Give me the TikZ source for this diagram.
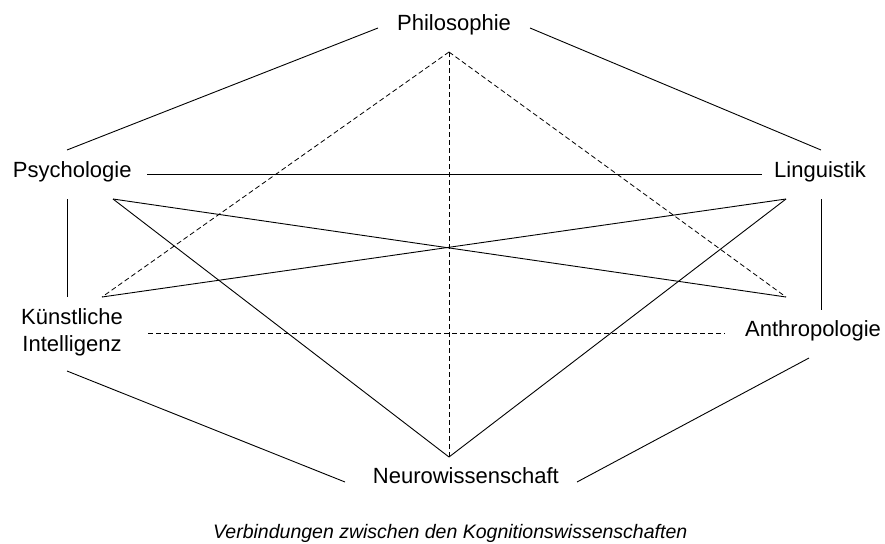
\documentclass[tikz,border=0pt]{standalone}
\usepackage{fontspec}
\setmainfont{Liberation Sans}
\begin{document}
\begin{tikzpicture}[x=1pt,y=-1pt,
  field/.style={inner sep=0pt, font=\fontsize{22}{27}\selectfont},
  caption/.style={inner sep=0pt, font=\fontsize{19.5}{23}\selectfont\itshape},
  link/.style={line width=0.9pt},
  weak/.style={line width=0.8pt, dash pattern=on 5pt off 3pt}]
\useasboundingbox (0,0) rectangle (885,543);

% disciplines
\node[field, anchor=base west] (phil)  at (397,30.5)  {Philosophie};
\node[field, anchor=base west] (psy)   at (12.7,177)  {Psychologie};
\node[field, anchor=base west] (ling)  at (774,177)   {Linguistik};
\node[field, align=center]     (ki)    at (72,332)    {Künstliche\\Intelligenz};
\node[field, anchor=base west] (anth)  at (745,336.7) {Anthropologie};
\node[field, anchor=base west] (neuro) at (372.7,483) {Neurowissenschaft};
\node[caption, anchor=base west] (cap) at (213,538)
  {Verbindungen zwischen den Kognitionswissenschaften};

% line ends around each label
\coordinate (phil-l) at (378,28);
\coordinate (phil-r) at (530,28);
\coordinate (phil-d) at (449,52);
\coordinate (psy-u)  at (67,150);
\coordinate (psy-r)  at (147,174);
\coordinate (psy-d)  at (67,199);
\coordinate (psy-dr) at (113,199);
\coordinate (ling-u)  at (821,150);
\coordinate (ling-l)  at (762,174);
\coordinate (ling-d)  at (821,199);
\coordinate (ling-dl) at (786,199);
\coordinate (ki-u)  at (67,297);
\coordinate (ki-ur) at (102,297);
\coordinate (ki-r)  at (148,333.3);
\coordinate (ki-d)  at (67,371);
\coordinate (anth-u)  at (821,310);
\coordinate (anth-ul) at (786,297);
\coordinate (anth-l)  at (725,333.3);
\coordinate (anth-d)  at (809,358);
\coordinate (neuro-u) at (449,457);
\coordinate (neuro-l) at (345,482);
\coordinate (neuro-r) at (577,482);

% strong connections
\draw[link] (phil-l) -- (psy-u);
\draw[link] (phil-r) -- (ling-u);
\draw[link] (psy-r) -- (ling-l);
\draw[link] (psy-d) -- (ki-u);
\draw[link] (ling-d) -- (anth-u);
\draw[link] (ki-d) -- (neuro-l);
\draw[link] (anth-d) -- (neuro-r);
\draw[link] (psy-dr) -- (anth-ul);
\draw[link] (psy-dr) -- (neuro-u);
\draw[link] (ling-dl) -- (ki-ur);
\draw[link] (ling-dl) -- (neuro-u);

% weak connections
\draw[weak] (phil-d) -- (ki-ur);
\draw[weak] (phil-d) -- (anth-ul);
\draw[weak] (phil-d) -- (neuro-u);
\draw[weak] (ki-r) -- (anth-l);
\end{tikzpicture}
\end{document}
